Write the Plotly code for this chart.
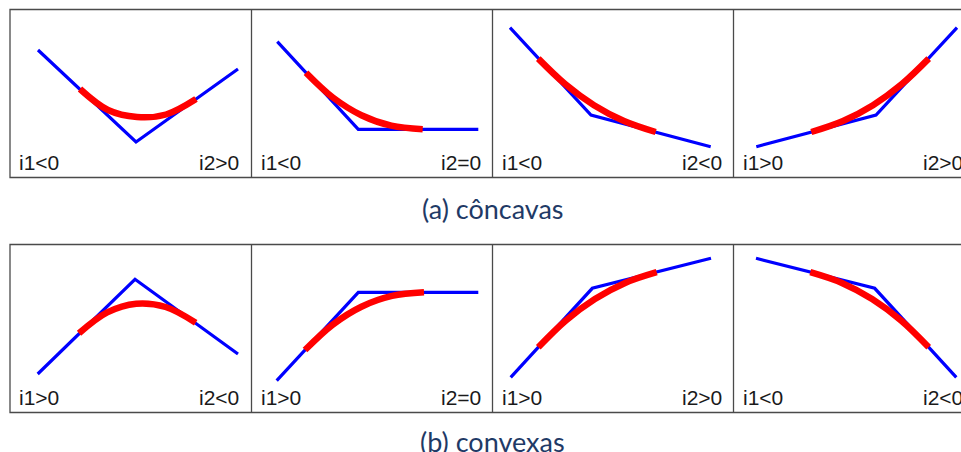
import plotly.graph_objects as go

# ---------------- data (panel-local units: x 0..241 to the right, y 0..168 downward) ----------------
# row (a) concave
a1_blue_x = [28, 126, 228];        a1_blue_y = [40.5, 132.5, 59.5]
a1_red_x = [70, 98, 127, 156, 186]; a1_red_y = [79.5, 100.5, 107.5, 105, 89.5]

a2_blue_x = [25.8, 106.8, 226.8];  a2_blue_y = [32.2, 119.8, 119.8]
a2_red_x = [54.5, 81.4, 109.9, 139.8, 171.2]; a2_red_y = [63.2, 88, 105.7, 116.2, 119.8]

a3_blue_x = [17.5, 98.5, 218.2];   a3_blue_y = [18.2, 105.5, 137.2]
a3_red_x = [45.8, 72.9, 101.5, 131.5, 163.2]; a3_red_y = [49.1, 74.8, 95.7, 111.5, 122.5]

a4_blue_x = [22.8, 142.5, 223.5];  a4_blue_y = [137.2, 105.5, 18.2]
a4_red_x = [77.8, 109.5, 139.5, 168.1, 195.2]; a4_red_y = [122.5, 111.5, 95.7, 74.8, 49.1]

# row (b) convex
b1_blue_x = [27.7, 125, 228];      b1_blue_y = [129.5, 34.8, 109.5]
b1_red_x = [69, 97.2, 126.2, 155.6, 185.7]; b1_red_y = [88.8, 67.9, 59.2, 62.5, 78.2]

b2_blue_x = [25.2, 106.8, 226.8];  b2_blue_y = [136.2, 47.8, 47.8]
b2_red_x = [53.5, 81, 109.9, 140.5, 172.5]; b2_red_y = [105.5, 80.3, 62.2, 51.4, 47.8]

b3_blue_x = [18.2, 99.8, 218.5];   b3_blue_y = [132.8, 43.8, 13.8]
b3_red_x = [45.8, 73.4, 102.4, 132.6, 164.2]; b3_red_y = [102.8, 76, 54.5, 38.4, 27.7]

b4_blue_x = [22.5, 141.2, 222.8];  b4_blue_y = [13.8, 43.8, 132.8]
b4_red_x = [76.8, 108.4, 138.6, 167.6, 195.2]; b4_red_y = [27.7, 38.4, 54.5, 76, 102.8]

labels_a_left = ["i1<0", "i1<0", "i1<0", "i1>0"]
labels_a_right = ["i2>0", "i2=0", "i2<0", "i2>0"]
labels_b_left = ["i1>0", "i1>0", "i1>0", "i1<0"]
labels_b_right = ["i2<0", "i2=0", "i2>0", "i2<0"]

caption_a = "(a) côncavas"
caption_b = "(b) convexas"

# ---------------- layout geometry ----------------
W, H = 961, 452
PANEL_W, PANEL_H = 241, 168
panel_x0 = [10, 251.5, 492.5, 733.5]
row_y0 = [9.5, 244.5]

panels = [
    [(a1_blue_x, a1_blue_y, a1_red_x, a1_red_y),
     (a2_blue_x, a2_blue_y, a2_red_x, a2_red_y),
     (a3_blue_x, a3_blue_y, a3_red_x, a3_red_y),
     (a4_blue_x, a4_blue_y, a4_red_x, a4_red_y)],
    [(b1_blue_x, b1_blue_y, b1_red_x, b1_red_y),
     (b2_blue_x, b2_blue_y, b2_red_x, b2_red_y),
     (b3_blue_x, b3_blue_y, b3_red_x, b3_red_y),
     (b4_blue_x, b4_blue_y, b4_red_x, b4_red_y)],
]
labels_left = [labels_a_left, labels_b_left]
labels_right = [labels_a_right, labels_b_right]

fig = go.Figure()
layout_axes = {}
annotations = []
shapes = []
BORDER = dict(color="#4a4a4a", width=1.3)
LBL_FONT = dict(family="Liberation Sans, Arial, sans-serif", size=21, color="#1a1a1a")

k = 0
for r in range(2):
    y0 = row_y0[r]
    ydom = [1 - (y0 + PANEL_H) / H, 1 - y0 / H]
    for c in range(4):
        k += 1
        x0 = panel_x0[c]
        x1 = min(x0 + PANEL_W, W)
        xdom = [x0 / W, x1 / W]
        xname = "xaxis" if k == 1 else f"xaxis{k}"
        yname = "yaxis" if k == 1 else f"yaxis{k}"
        xref = "x" if k == 1 else f"x{k}"
        yref = "y" if k == 1 else f"y{k}"
        layout_axes[xname] = dict(domain=xdom, range=[0, x1 - x0], visible=False,
                                  fixedrange=True, anchor=yref)
        layout_axes[yname] = dict(domain=ydom, range=[PANEL_H, 0], visible=False,
                                  fixedrange=True, anchor=xref)
        bx, by, rx, ry = panels[r][c]
        fig.add_trace(go.Scatter(x=bx, y=by, mode="lines", xaxis=xref, yaxis=yref,
                                 line=dict(color="#0000ff", width=3.2), hoverinfo="skip",
                                 showlegend=False))
        fig.add_trace(go.Scatter(x=rx, y=ry, mode="lines", xaxis=xref, yaxis=yref,
                                 line=dict(color="#ff0000", width=6.5, shape="spline"),
                                 hoverinfo="skip", showlegend=False))
        ylab = 1 - (y0 + 152.5) / H
        annotations.append(dict(text=labels_left[r][c], xref="paper", yref="paper",
                                x=(x0 + 7) / W, y=ylab, xanchor="left", yanchor="middle",
                                showarrow=False, font=LBL_FONT))
        annotations.append(dict(text=labels_right[r][c], xref="paper", yref="paper",
                                x=(x0 + PANEL_W - 10) / W, y=ylab, xanchor="right",
                                yanchor="middle", showarrow=False, font=LBL_FONT))
    # row border + dividers
    shapes.append(dict(type="rect", xref="paper", yref="paper",
                       x0=10 / W, x1=(733.5 + PANEL_W) / W,
                       y0=ydom[0], y1=ydom[1], line=BORDER))
    for c in range(1, 4):
        shapes.append(dict(type="line", xref="paper", yref="paper",
                           x0=panel_x0[c] / W, x1=panel_x0[c] / W,
                           y0=ydom[0], y1=ydom[1], line=BORDER))

CAP_FONT = dict(family="Lato, Open Sans, sans-serif", size=27, color="#1f3a66")
annotations.append(dict(text=caption_a, xref="paper", yref="paper", x=493 / W, y=1 - 208 / H,
                        xanchor="center", yanchor="middle", showarrow=False, font=CAP_FONT))
annotations.append(dict(text=caption_b, xref="paper", yref="paper", x=493 / W, y=1 - 441 / H,
                        xanchor="center", yanchor="middle", showarrow=False, font=CAP_FONT))

fig.update_layout(width=W, height=H, margin=dict(l=0, r=0, t=0, b=0),
                  paper_bgcolor="white", plot_bgcolor="white",
                  annotations=annotations, shapes=shapes, **layout_axes)
fig.write_html("out.html", config={"displayModeBar": False},
               post_script="document.body.style.margin='0';document.body.style.overflow='hidden';")
